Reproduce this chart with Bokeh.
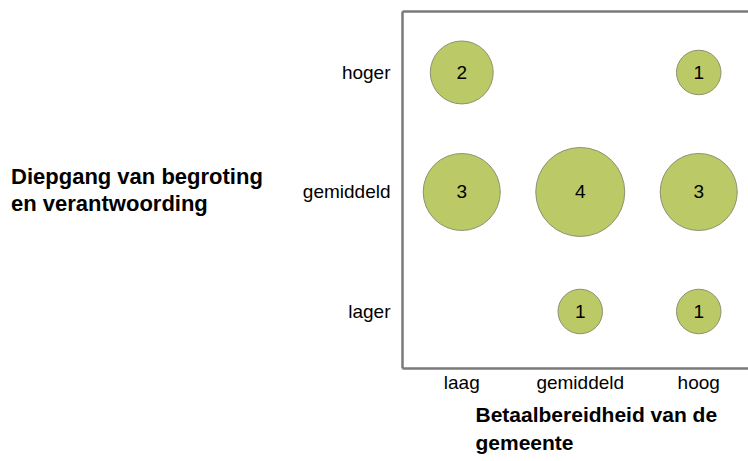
from bokeh.plotting import figure
from bokeh.models import Range1d, FixedTicker, LinearAxis, Title, ColumnDataSource
from bokeh.embed import file_html
from bokeh.resources import INLINE
from bokeh.core.properties import value

# data
x_categories = ["laag", "gemiddeld", "hoog"]
y_categories = ["lager", "gemiddeld", "hoger"]
point_x = ["laag", "hoog", "laag", "gemiddeld", "hoog", "gemiddeld", "hoog"]
point_y = ["hoger", "hoger", "gemiddeld", "gemiddeld", "gemiddeld", "lager", "lager"]
counts = [2, 1, 3, 4, 3, 1, 1]
x_title = ["Betaalbereidheid van de", "gemeente"]
y_title = ["Diepgang van begroting", "en verantwoording"]

FONT = "Liberation Sans"
W, H = 748, 461
FL, FB, FT = 402, 368, 11  # frame left / bottom / top in canvas px

xs = [x_categories.index(c) for c in point_x]
ys = [y_categories.index(c) for c in point_y]
sizes = [44.5 * (n ** 0.5) for n in counts]
src = ColumnDataSource(dict(x=xs, y=ys, size=sizes, label=[str(n) for n in counts]))

p = figure(width=W, height=H, output_backend="svg", toolbar_location=None,
           x_range=Range1d(-0.5, 2.42), y_range=Range1d(-0.477, 2.51),
           min_border_left=FL, min_border_right=0, min_border_top=FT,
           min_border_bottom=H - FB)
p.outline_line_color = None
p.xgrid.visible = False
p.ygrid.visible = False
p.background_fill_color = "white"
p.border_fill_color = "white"

for ax, cats in ((p.xaxis[0], x_categories), (p.yaxis[0], y_categories)):
    ax.ticker = FixedTicker(ticks=list(range(len(cats))))
    ax.major_label_overrides = {i: c for i, c in enumerate(cats)}
    ax.major_tick_line_color = None
    ax.minor_tick_line_color = None
    ax.axis_line_color = "#7a7a7a"
    ax.axis_line_width = 2.5
    ax.major_label_text_font = FONT
    ax.major_label_text_font_size = "19px"
    ax.major_label_text_color = "#000000"
p.xaxis[0].major_label_standoff = -3
p.yaxis[0].major_label_standoff = 6

# y title, horizontal, left of the tick labels; second line padded so both lines start left
ya = p.yaxis[0]
ya.axis_label = y_title[0] + "\n" + y_title[1] + "\u00a0" * 9
ya.axis_label_text_font = FONT
ya.axis_label_text_font_size = "22px"
ya.axis_label_text_font_style = "bold"
ya.axis_label_text_color = "#000000"
ya.axis_label_text_line_height = 1.05
ya.axis_label_standoff = 37
ya.axis_label_orientation = "horizontal"

top = LinearAxis(ticker=FixedTicker(ticks=[]), major_label_text_font_size="0px",
                 major_tick_line_color=None, minor_tick_line_color=None,
                 axis_line_color="#7a7a7a", axis_line_width=2.5)
p.add_layout(top, "above")

p.add_layout(Title(text="\n".join(x_title), align="left", offset=73, standoff=10,
                   text_font=FONT, text_font_size="21px", text_font_style="bold",
                   text_color="#000000", text_line_height=1.24), "below")

p.scatter("x", "y", size="size", source=src, fill_color="#bbc966",
          line_color="#8c9270", line_width=1)
p.text("x", "y", text="label", source=src, text_align="center", text_baseline="middle",
       text_font=value(FONT), text_font_size="19px", text_color="#000000")

open("out.html", "w").write(file_html(p, INLINE))
